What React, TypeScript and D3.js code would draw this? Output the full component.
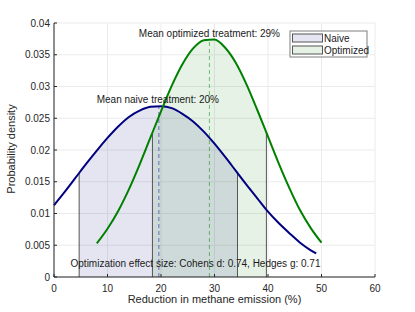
import React from "react";
import * as d3 from "d3";

// density curves (x = % reduction, y = probability density)
const naiveX = [0, 2, 4, 6, 8, 10, 12, 14, 16, 18, 20, 22, 24, 26, 28, 30, 32, 34, 36, 38, 40, 42, 44, 46, 48, 49];
const naiveY = [0.0113, 0.0134, 0.0156, 0.0178, 0.0199, 0.0219, 0.0237, 0.0252, 0.0262, 0.0268, 0.0269, 0.0266, 0.0257, 0.0245, 0.0229, 0.021, 0.0189, 0.0167, 0.0145, 0.0124, 0.0103, 0.0085, 0.0069, 0.0054, 0.0042, 0.0037];
const optX = [8, 10, 12, 14, 16, 18, 20, 22, 24, 26, 28, 30, 32, 34, 36, 38, 40, 42, 44, 46, 48, 50];
const optY = [0.0053, 0.0076, 0.0104, 0.0138, 0.0177, 0.0219, 0.0261, 0.0301, 0.0335, 0.036, 0.0373, 0.0374, 0.0361, 0.0337, 0.0303, 0.0263, 0.0221, 0.0179, 0.014, 0.0105, 0.0077, 0.0054];

const naiveMean = 19.6;
const naiveBand = [4.7, 34.3]; // mean ± sd
const optMean = 29.05;
const optBand = [18.4, 39.7];

const xTicks = [0, 10, 20, 30, 40, 50, 60];
const yTicks = [0, 0.005, 0.01, 0.015, 0.02, 0.025, 0.03, 0.035, 0.04];
const legendLabels = ["Naive", "Optimized"];

const naiveColor = "#000080";
const optColor = "#008000";
const font = "'Liberation Sans', Arial, sans-serif";

export default function App() {
  const width = 415;
  const height = 312;
  const margin = { top: 23, right: 40, bottom: 35, left: 54 };

  const x = d3.scaleLinear().domain([0, 60]).range([margin.left, width - margin.right]);
  const y = d3.scaleLinear().domain([0, 0.04]).range([height - margin.bottom, margin.top]);

  const naive = naiveX.map((v, i) => [v, naiveY[i]] as [number, number]);
  const opt = optX.map((v, i) => [v, optY[i]] as [number, number]);

  const line = d3
    .line<[number, number]>()
    .x((d) => x(d[0]))
    .y((d) => y(d[1]))
    .curve(d3.curveMonotoneX);
  const area = d3
    .area<[number, number]>()
    .x((d) => x(d[0]))
    .y0(y(0))
    .y1((d) => y(d[1]))
    .curve(d3.curveMonotoneX);

  const y0 = y(0);
  const yTop = y(0.04);

  const series = [
    { key: "naive", data: naive, color: naiveColor, band: naiveBand, mean: naiveMean },
    { key: "opt", data: opt, color: optColor, band: optBand, mean: optMean },
  ];

  return (
    <svg width={width} height={height} style={{ display: "block", position: "absolute", left: 0, top: 0 }} fontFamily={font}>
      <defs>
        {series.map((s) => (
          <clipPath key={s.key} id={`under-${s.key}`}>
            <path d={area(s.data) || ""} />
          </clipPath>
        ))}
        {series.map((s) => (
          <clipPath key={s.key} id={`band-${s.key}`}>
            <rect x={x(s.band[0])} y={yTop} width={x(s.band[1]) - x(s.band[0])} height={y0 - yTop} />
          </clipPath>
        ))}
      </defs>

      {/* grid */}
      {xTicks.map((t) => (
        <line key={`gx${t}`} x1={x(t)} x2={x(t)} y1={yTop} y2={y0} stroke="#ebebeb" strokeWidth={1} />
      ))}
      {yTicks.map((t) => (
        <line key={`gy${t}`} x1={x(0)} x2={x(60)} y1={y(t)} y2={y(t)} stroke="#ebebeb" strokeWidth={1} />
      ))}

      {/* shaded ±sd bands under each curve */}
      {series.map((s) => (
        <g key={`fill-${s.key}`} clipPath={`url(#band-${s.key})`}>
          <path d={area(s.data) || ""} fill={s.color} fillOpacity={0.1} />
        </g>
      ))}
      {series.map((s) => (
        <g key={`edge-${s.key}`} clipPath={`url(#under-${s.key})`}>
          {s.band.map((b) => (
            <line key={b} x1={x(b)} x2={x(b)} y1={y0} y2={yTop} stroke="#555" strokeWidth={1} />
          ))}
          <line
            x1={x(s.mean)}
            x2={x(s.mean)}
            y1={y0}
            y2={yTop}
            stroke={s.color}
            strokeOpacity={0.5}
            strokeWidth={1}
            strokeDasharray="4,3"
          />
        </g>
      ))}

      {/* curves */}
      {series.map((s) => (
        <path key={`line-${s.key}`} d={line(s.data) || ""} fill="none" stroke={s.color} strokeWidth={2} />
      ))}

      {/* annotations */}
      <text x={x(naiveMean) - 1} y={y(0.0274)} textAnchor="middle" fontSize={10} fill="#1a1a1a">
        Mean naive treatment: 20%
      </text>
      <text x={x(optMean)} y={y(0.0378)} textAnchor="middle" fontSize={10} fill="#1a1a1a">
        Mean optimized treatment: 29%
      </text>
      <text x={x(26.45)} y={y(0.0016)} textAnchor="middle" fontSize={10} fill="#1a1a1a">
        Optimization effect size: Cohens d: 0.74, Hedges g: 0.71
      </text>

      {/* axes */}
      <line x1={x(0)} x2={x(60)} y1={y0} y2={y0} stroke="#262626" />
      <line x1={x(0)} x2={x(0)} y1={y0} y2={yTop} stroke="#262626" />
      {xTicks.map((t) => (
        <g key={`xt${t}`}>
          <line x1={x(t)} x2={x(t)} y1={y0} y2={y0 - 3} stroke="#262626" />
          <text x={x(t)} y={y0 + 15} textAnchor="middle" fontSize={10} fill="#262626">
            {t}
          </text>
        </g>
      ))}
      {yTicks.map((t) => (
        <g key={`yt${t}`}>
          <line x1={x(0)} x2={x(0) + 3} y1={y(t)} y2={y(t)} stroke="#262626" />
          <text x={x(0) - 4} y={y(t)} dy="0.35em" textAnchor="end" fontSize={10} fill="#262626">
            {t}
          </text>
        </g>
      ))}
      <text x={x(30)} y={303} textAnchor="middle" fontSize={11} fill="#262626">
        Reduction in methane emission (%)
      </text>
      <text
        x={15}
        y={149}
        textAnchor="middle"
        fontSize={11}
        fill="#262626"
        transform="rotate(-90, 15, 149)"
      >
        Probability density
      </text>

      {/* legend */}
      <g transform="translate(290,31)">
        <rect x={0} y={0} width={77} height={26} fill="#fff" stroke="#7f7f7f" strokeWidth={1} />
        {legendLabels.map((l, i) => (
          <g key={l} transform={`translate(0, ${i * 12})`}>
            <rect
              x={2.5}
              y={3}
              width={30}
              height={8}
              fill={i === 0 ? naiveColor : optColor}
              fillOpacity={0.1}
              stroke="#555"
              strokeWidth={1}
            />
            <text x={34} y={11} fontSize={10} fill="#1a1a1a">
              {l}
            </text>
          </g>
        ))}
      </g>
    </svg>
  );
}
